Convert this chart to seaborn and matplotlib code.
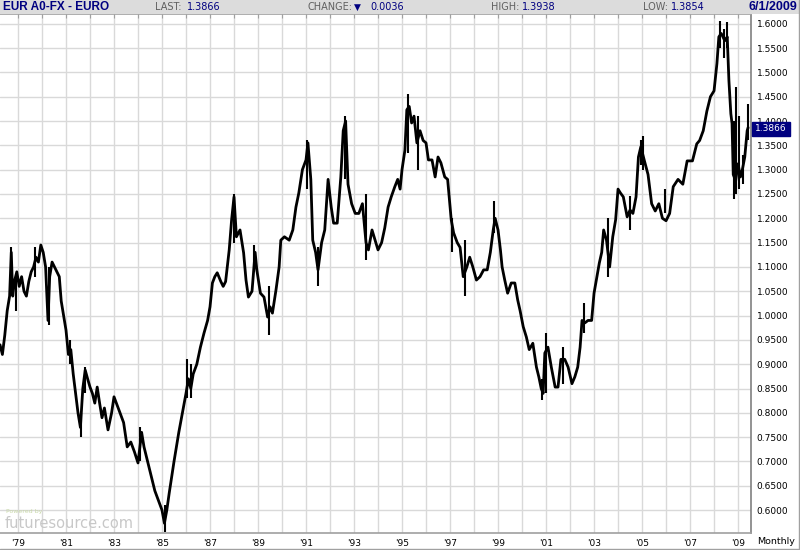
import numpy as np
import pandas as pd
import matplotlib
matplotlib.use("Agg")
import matplotlib.pyplot as plt
import seaborn as sns
from matplotlib.patches import Rectangle

# Price path (decimal year, close)
dates = [1978.25, 1978.35, 1978.45, 1978.55, 1978.65, 1978.72, 1978.78, 1978.85, 1978.95,
         1979.05, 1979.15, 1979.25, 1979.35, 1979.45, 1979.55, 1979.65, 1979.75, 1979.85, 1979.95,
         1980.05, 1980.15, 1980.25, 1980.32, 1980.42, 1980.52, 1980.62, 1980.72, 1980.80, 1980.90,
         1981.00, 1981.10, 1981.20, 1981.30, 1981.40, 1981.50, 1981.60, 1981.70, 1981.80, 1981.90,
         1982.00, 1982.10, 1982.20, 1982.30, 1982.40, 1982.50, 1982.60, 1982.75, 1982.90,
         1983.00, 1983.10, 1983.25, 1983.40, 1983.55, 1983.70, 1983.85,
         1984.00, 1984.15, 1984.25, 1984.40, 1984.55, 1984.70, 1984.85,
         1985.00, 1985.10, 1985.20, 1985.30, 1985.50, 1985.70, 1985.85,
         1986.00, 1986.10, 1986.20, 1986.30, 1986.45, 1986.60, 1986.75, 1986.90,
         1987.00, 1987.10, 1987.20, 1987.30, 1987.45, 1987.55, 1987.65, 1987.80, 1987.90,
         1988.00, 1988.10, 1988.25, 1988.40, 1988.50, 1988.60, 1988.75, 1988.88, 1988.95,
         1989.10, 1989.25, 1989.40, 1989.50, 1989.60, 1989.75, 1989.88, 1989.95,
         1990.10, 1990.30, 1990.45, 1990.58, 1990.70, 1990.85,
         1991.00, 1991.08, 1991.20, 1991.28, 1991.40, 1991.50, 1991.65, 1991.78, 1991.92,
         1992.05, 1992.15, 1992.30, 1992.45, 1992.55, 1992.65, 1992.75, 1992.90,
         1993.05, 1993.20, 1993.35, 1993.50, 1993.60, 1993.75, 1993.88,
         1994.00, 1994.15, 1994.28, 1994.42, 1994.55, 1994.70, 1994.82, 1994.92,
         1995.00, 1995.12, 1995.20, 1995.30, 1995.40, 1995.50, 1995.62, 1995.75, 1995.88,
         1996.00, 1996.10, 1996.25, 1996.38, 1996.50, 1996.62, 1996.78, 1996.90,
         1997.05, 1997.15, 1997.30, 1997.42, 1997.55, 1997.70, 1997.82, 1997.95,
         1998.10, 1998.25, 1998.40, 1998.55, 1998.68, 1998.80, 1998.88,
         1999.00, 1999.10, 1999.17, 1999.28, 1999.40, 1999.55, 1999.70, 1999.82, 1999.92,
         2000.05, 2000.18, 2000.30, 2000.45, 2000.60, 2000.70, 2000.80, 2000.88, 2000.95,
         2001.08, 2001.22, 2001.38, 2001.50, 2001.62, 2001.78, 2001.92,
         2002.08, 2002.20, 2002.32, 2002.42, 2002.50, 2002.62, 2002.75, 2002.90,
         2003.00, 2003.12, 2003.22, 2003.32, 2003.40, 2003.52, 2003.65, 2003.78, 2003.90,
         2004.00, 2004.10, 2004.22, 2004.38, 2004.50, 2004.62, 2004.75, 2004.85, 2004.95,
         2005.10, 2005.25, 2005.40, 2005.55, 2005.70, 2005.85,
         2006.00, 2006.15, 2006.30, 2006.50, 2006.70, 2006.88,
         2007.10, 2007.28, 2007.40, 2007.55, 2007.70, 2007.85,
         2008.00, 2008.12, 2008.20, 2008.30, 2008.45, 2008.55, 2008.62, 2008.70, 2008.75,
         2008.80, 2008.90, 2009.00, 2009.10, 2009.18, 2009.28, 2009.38, 2009.42]
closes = [0.94, 0.92, 0.96, 1.01, 1.04, 1.13, 1.04, 1.07, 1.09,
          1.06, 1.08, 1.05, 1.04, 1.07, 1.09, 1.10, 1.12, 1.11, 1.145,
          1.13, 1.10, 0.99, 1.08, 1.11, 1.10, 1.09, 1.08, 1.03, 1.00,
          0.97, 0.92, 0.93, 0.88, 0.84, 0.80, 0.77, 0.85, 0.888, 0.87,
          0.853, 0.84, 0.82, 0.853, 0.82, 0.79, 0.81, 0.765, 0.80,
          0.833, 0.82, 0.80, 0.78, 0.73, 0.74, 0.72,
          0.697, 0.76, 0.73, 0.70, 0.67, 0.64, 0.62,
          0.60, 0.573, 0.60, 0.635, 0.70, 0.76, 0.80,
          0.84, 0.87, 0.85, 0.88, 0.90, 0.935, 0.964, 0.99,
          1.018, 1.067, 1.08, 1.088, 1.07, 1.06, 1.07, 1.135, 1.197,
          1.244, 1.162, 1.176, 1.129, 1.073, 1.038, 1.05, 1.13, 1.094,
          1.046, 1.038, 0.997, 1.018, 1.005, 1.053, 1.10, 1.155,
          1.162, 1.155, 1.176, 1.223, 1.252, 1.30,
          1.32, 1.355, 1.28, 1.155, 1.13, 1.094, 1.15, 1.176, 1.28,
          1.223, 1.19, 1.19, 1.285, 1.38, 1.40, 1.27, 1.23,
          1.21, 1.21, 1.23, 1.15, 1.135, 1.176, 1.155,
          1.135, 1.15, 1.18, 1.223, 1.244, 1.265, 1.28, 1.26,
          1.30, 1.34, 1.423, 1.43, 1.396, 1.41, 1.355, 1.38, 1.36,
          1.355, 1.32, 1.32, 1.285, 1.326, 1.314, 1.285, 1.28,
          1.197, 1.17, 1.15, 1.14, 1.08, 1.10, 1.12, 1.10,
          1.073, 1.08, 1.094, 1.094, 1.13, 1.176, 1.20,
          1.176, 1.135, 1.10, 1.073, 1.046, 1.067, 1.067, 1.032, 1.01,
          0.977, 0.956, 0.93, 0.943, 0.894, 0.874, 0.85, 0.84, 0.923,
          0.935, 0.894, 0.853, 0.853, 0.91, 0.91, 0.894,
          0.86, 0.874, 0.894, 0.935, 0.99, 0.985, 0.99, 0.99,
          1.046, 1.08, 1.108, 1.13, 1.176, 1.155, 1.10, 1.162, 1.197,
          1.26, 1.252, 1.244, 1.203, 1.217, 1.21, 1.244, 1.326, 1.347,
          1.318, 1.29, 1.23, 1.215, 1.23, 1.20,
          1.195, 1.21, 1.265, 1.28, 1.27, 1.318,
          1.318, 1.353, 1.36, 1.38, 1.42, 1.45,
          1.462, 1.518, 1.573, 1.58, 1.565, 1.573, 1.483, 1.415, 1.395,
          1.29, 1.277, 1.312, 1.285, 1.30, 1.326, 1.38, 1.3866]

# visible high/low bars (decimal year, low, high)
wick_dates = [1978.72, 1978.90, 1979.70, 1980.28, 1981.15, 1981.62, 1981.80, 1984.10,
              1985.12, 1986.05, 1986.20, 1988.00, 1988.85, 1989.45, 1991.05, 1991.50,
              1992.62, 1993.50, 1995.25, 1995.65, 1997.10, 1997.62, 1998.85, 2000.85,
              2001.00, 2001.70, 2002.60, 2003.60, 2004.50, 2004.97, 2005.05, 2005.95,
              2008.25, 2008.40, 2008.52, 2008.82, 2008.93, 2009.05, 2009.20, 2009.40]
wick_lows = [1.04, 1.01, 1.08, 0.98, 0.90, 0.75, 0.84, 0.70,
             0.555, 0.83, 0.83, 1.15, 1.09, 0.96, 1.26, 1.06,
             1.28, 1.115, 1.335, 1.30, 1.13, 1.04, 1.17, 0.826,
             0.84, 0.86, 0.965, 1.08, 1.176, 1.31, 1.30, 1.21,
             1.55, 1.53, 1.55, 1.24, 1.25, 1.26, 1.27, 1.36]
wick_highs = [1.14, 1.08, 1.14, 1.10, 0.95, 0.80, 0.895, 0.77,
              0.61, 0.91, 0.90, 1.25, 1.145, 1.06, 1.36, 1.14,
              1.41, 1.25, 1.455, 1.41, 1.20, 1.155, 1.235, 0.87,
              0.965, 0.935, 1.025, 1.20, 1.245, 1.36, 1.37, 1.26,
              1.605, 1.59, 1.604, 1.40, 1.47, 1.41, 1.33, 1.435]

year_ticks = list(range(1979, 2010))
year_labels = ["'%02d" % (y % 100) if y % 2 == 1 else "" for y in year_ticks]
price_ticks = [round(0.60 + 0.05 * i, 2) for i in range(21)]

last_price = 1.3866

navy = "#000080"
grey_txt = "#606060"
grid_c = "#d9d9d9"

sns.set_style("white")
plt.rcParams['font.family'] = ['DejaVu Sans']

fig = plt.figure(figsize=(8, 5.5), dpi=100)
W, H = 800, 550
ax = fig.add_axes([0, 17 / H, 751 / W, (533 - 14) / H])

df = pd.DataFrame({"date": dates, "close": closes})
sns.lineplot(data=df, x="date", y="close", ax=ax, color="black", linewidth=2.0, sort=False)
ax.vlines(wick_dates, wick_lows, wick_highs, color="black", linewidth=1.5)

ax.set_xlim(1978.25, 2009.54)
ax.set_ylim(0.553, 1.62)
ax.set_xlabel("")
ax.set_ylabel("")

ax.set_xticks(year_ticks)
ax.set_xticklabels(year_labels, fontsize=6.5, color="black")
ax.tick_params(axis="x", top=True, bottom=False, direction="in", length=3,
               color="#a0a0a0", pad=4)

ax.yaxis.tick_right()
ax.set_yticks(price_ticks)
ax.set_yticklabels(["%.4f" % p for p in price_ticks], fontsize=6.5, color="black")
ax.tick_params(axis="y", right=True, length=0, pad=4)

ax.grid(True, color=grid_c, linewidth=1)
ax.set_axisbelow(True)
ax.spines["left"].set_visible(False)
ax.spines["right"].set_color("#808080")
ax.spines["top"].set_color("#a0a0a0")
ax.spines["bottom"].set_color("#a0a0a0")
for side in ["right", "top", "bottom"]:
    ax.spines[side].set_linewidth(1.2)

# last price marker on the right scale
ax.annotate("%.4f" % last_price, xy=(1.0, last_price), xycoords=("axes fraction", "data"),
            xytext=(3, -1), textcoords="offset points", ha="left", va="center",
            fontsize=6.5, color="white", zorder=10, annotation_clip=False,
            bbox=dict(boxstyle="square,pad=0.3", fc=navy, ec=navy))

# header band
fig.patches.append(Rectangle((0, 1 - 14 / H), 1, 14 / H, transform=fig.transFigure,
                             facecolor="#dcdcdc", edgecolor="none", zorder=0))
hy = 1 - 7 / H
fig.text(3 / W, hy, "EUR A0-FX - EURO", fontsize=8.5, fontweight="bold", color=navy, va="center",
         family=["Liberation Sans"])
fig.text(155 / W, hy, "LAST:", fontsize=7, color=grey_txt, va="center")
fig.text(187 / W, hy, "1.3866", fontsize=7, color=navy, va="center")
fig.text(308 / W, hy, "CHANGE:", fontsize=7, color=grey_txt, va="center")
fig.text(354 / W, hy, "\u25bc", fontsize=6.5, color=navy, va="center")
fig.text(370 / W, hy, "0.0036", fontsize=7, color=navy, va="center")
fig.text(491 / W, hy, "HIGH:", fontsize=7, color=grey_txt, va="center")
fig.text(522 / W, hy, "1.3938", fontsize=7, color=navy, va="center")
fig.text(643 / W, hy, "LOW:", fontsize=7, color=grey_txt, va="center")
fig.text(671 / W, hy, "1.3854", fontsize=7, color=navy, va="center")
fig.text(797 / W, hy, "6/1/2009", fontsize=9, fontweight="bold", color=navy, va="center", ha="right",
         family=["Liberation Sans"])

fig.text(757 / W, 1 - 542 / H, "Monthly", fontsize=6.8, color="black", va="center")
fig.lines.append(plt.Line2D([0, 1], [1 / H, 1 / H], transform=fig.transFigure, color="#a0a0a0", lw=1))
fig.lines.append(plt.Line2D([1 - 1 / W, 1 - 1 / W], [0, 1], transform=fig.transFigure, color="#a0a0a0", lw=1))

# watermark
fig.text(6 / W, 1 - 512 / H, "Powered by", fontsize=4.5, color="#c8d8a8", va="center")
fig.text(5 / W, 1 - 523 / H, "futuresource.com", fontsize=10.5, color="#c8c8c8", va="center")

fig.savefig("out.png", dpi=100)
